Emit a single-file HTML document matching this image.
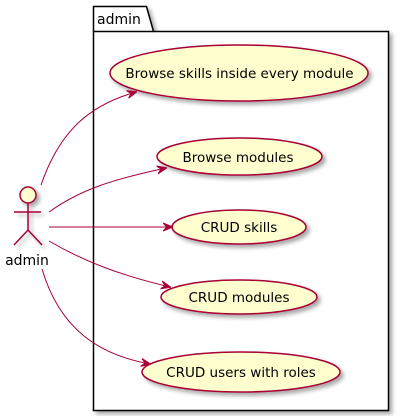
<!DOCTYPE html>
<html><head><style>
html,body{margin:0;padding:0;background:#fff;}
svg{display:block;}
text{font-family:"DejaVu Sans","Liberation Sans",sans-serif;font-size:13.5px;fill:#000;}
</style></head><body>
<svg width="403" height="416" viewBox="0 0 403 416" xmlns="http://www.w3.org/2000/svg">
<defs>
<marker id="a" viewBox="0 0 10 10" refX="9" refY="5" markerWidth="10" markerHeight="10" orient="auto" markerUnits="userSpaceOnUse">
<path d="M0,1 L10,5 L0,9 L4,5 Z" fill="#A80036" stroke="#A80036" stroke-width="1"/>
</marker>
<filter id="s" x="-10%" y="-10%" width="130%" height="140%"><feOffset dx="3" dy="3" in="SourceAlpha"/><feGaussianBlur stdDeviation="2"/><feComponentTransfer><feFuncA type="linear" slope="0.35"/></feComponentTransfer><feMerge><feMergeNode/><feMergeNode in="SourceGraphic"/></feMerge></filter>
</defs>
<g filter="url(#s)">
<path d="M93.5,6.5 L146.5,6.5 L153.5,31.5 L388.5,31.5 L388.5,410.5 L93.5,410.5 Z" fill="#fff" stroke="#000" stroke-width="1.5"/>
</g>
<line x1="93.5" y1="31.5" x2="153.5" y2="31.5" stroke="#000" stroke-width="1.5"/>
<text x="97" y="24" style="font-size:14px">admin</text>
<g filter="url(#s)" fill="#FEFECE" stroke="#A80036" stroke-width="1.5">
<ellipse cx="239" cy="73" rx="129" ry="28"/>
<ellipse cx="239.5" cy="156.5" rx="82.5" ry="18.5"/>
<ellipse cx="239" cy="227" rx="67" ry="17"/>
<ellipse cx="239" cy="297" rx="78" ry="17"/>
<ellipse cx="241" cy="372" rx="99" ry="20"/>
</g>
<text x="239.5" y="78" text-anchor="middle">Browse skills inside every module</text>
<text x="238" y="162" text-anchor="middle">Browse modules</text>
<text x="239" y="232" text-anchor="middle">CRUD skills</text>
<text x="239" y="302" text-anchor="middle">CRUD modules</text>
<text x="241" y="377" text-anchor="middle">CRUD users with roles</text>
<g filter="url(#s)" stroke="#A80036" stroke-width="1.5" fill="none">
<circle cx="28" cy="195" r="8" fill="#FEFECE"/>
<line x1="28" y1="203" x2="28" y2="230"/>
<line x1="14" y1="212" x2="41" y2="212"/>
<line x1="28" y1="230" x2="14" y2="245"/>
<line x1="28" y1="230" x2="42" y2="245"/>
</g>
<text x="27" y="265" text-anchor="middle" style="font-size:14px">admin</text>
<g stroke="#A80036" stroke-width="1" fill="none" marker-end="url(#a)">
<path d="M41,185 C60,130 90,105 136,92"/>
<path d="M49,212 C80,190 110,180 166,168"/>
<path d="M49,227 L172,227"/>
<path d="M49,241 C85,262 120,275 170,287"/>
<path d="M42,269 C60,330 100,355 150,364"/>
</g>
</svg>
</body></html>
